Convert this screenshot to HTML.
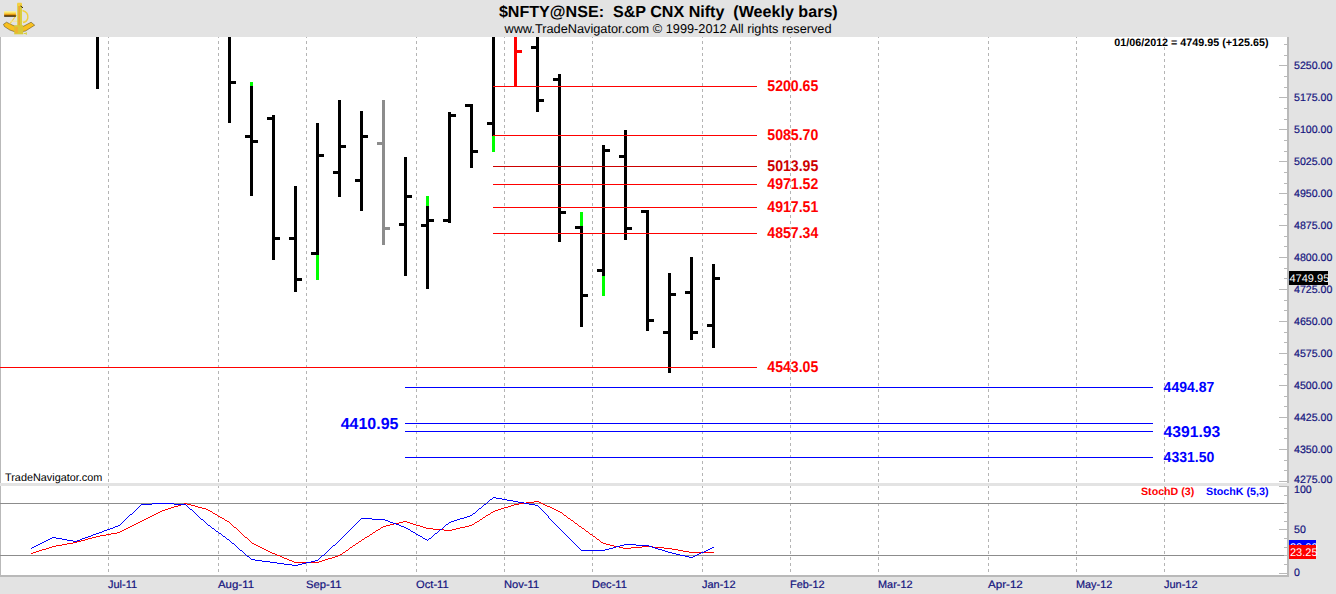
<!DOCTYPE html><html><head><meta charset="utf-8"><style>html,body{margin:0;padding:0;background:#e3e3e3;}svg{display:block}text{font-family:"Liberation Sans",sans-serif;white-space:pre;text-rendering:geometricPrecision}</style></head><body>
<svg width="1336" height="594" viewBox="0 0 1336 594">
<rect x="0" y="0" width="1336" height="594" fill="#e3e3e3"/>
<g shape-rendering="crispEdges">
<rect x="0" y="37" width="1287" height="446" fill="#fff"/>
<rect x="0" y="486" width="1287" height="89" fill="#fff"/>
<rect x="0" y="37" width="1" height="446" fill="#b9b9b9"/>
<rect x="0" y="486" width="1" height="89" fill="#b9b9b9"/>
<rect x="0" y="575" width="1289" height="2" fill="#b9b9b9"/>
<rect x="1287" y="37" width="2" height="446" fill="#b9b9b9"/>
<rect x="1287" y="486" width="2" height="91" fill="#b9b9b9"/>
<line x1="108.5" y1="37" x2="108.5" y2="483" stroke="#b4b4b4" stroke-width="1" stroke-dasharray="3 3" stroke-dashoffset="-4"/>
<line x1="108.5" y1="486" x2="108.5" y2="573" stroke="#b4b4b4" stroke-width="1" stroke-dasharray="3 3" stroke-dashoffset="-5"/>
<line x1="218.5" y1="37" x2="218.5" y2="483" stroke="#b4b4b4" stroke-width="1" stroke-dasharray="3 3" stroke-dashoffset="-4"/>
<line x1="218.5" y1="486" x2="218.5" y2="573" stroke="#b4b4b4" stroke-width="1" stroke-dasharray="3 3" stroke-dashoffset="-5"/>
<line x1="306.5" y1="37" x2="306.5" y2="483" stroke="#b4b4b4" stroke-width="1" stroke-dasharray="3 3" stroke-dashoffset="-4"/>
<line x1="306.5" y1="486" x2="306.5" y2="573" stroke="#b4b4b4" stroke-width="1" stroke-dasharray="3 3" stroke-dashoffset="-5"/>
<line x1="416.5" y1="37" x2="416.5" y2="483" stroke="#b4b4b4" stroke-width="1" stroke-dasharray="3 3" stroke-dashoffset="-4"/>
<line x1="416.5" y1="486" x2="416.5" y2="573" stroke="#b4b4b4" stroke-width="1" stroke-dasharray="3 3" stroke-dashoffset="-5"/>
<line x1="504.5" y1="37" x2="504.5" y2="483" stroke="#b4b4b4" stroke-width="1" stroke-dasharray="3 3" stroke-dashoffset="-4"/>
<line x1="504.5" y1="486" x2="504.5" y2="573" stroke="#b4b4b4" stroke-width="1" stroke-dasharray="3 3" stroke-dashoffset="-5"/>
<line x1="592.5" y1="37" x2="592.5" y2="483" stroke="#b4b4b4" stroke-width="1" stroke-dasharray="3 3" stroke-dashoffset="-4"/>
<line x1="592.5" y1="486" x2="592.5" y2="573" stroke="#b4b4b4" stroke-width="1" stroke-dasharray="3 3" stroke-dashoffset="-5"/>
<line x1="702.5" y1="37" x2="702.5" y2="483" stroke="#b4b4b4" stroke-width="1" stroke-dasharray="3 3" stroke-dashoffset="-4"/>
<line x1="702.5" y1="486" x2="702.5" y2="573" stroke="#b4b4b4" stroke-width="1" stroke-dasharray="3 3" stroke-dashoffset="-5"/>
<line x1="790.5" y1="37" x2="790.5" y2="483" stroke="#b4b4b4" stroke-width="1" stroke-dasharray="3 3" stroke-dashoffset="-4"/>
<line x1="790.5" y1="486" x2="790.5" y2="573" stroke="#b4b4b4" stroke-width="1" stroke-dasharray="3 3" stroke-dashoffset="-5"/>
<line x1="878.5" y1="37" x2="878.5" y2="483" stroke="#b4b4b4" stroke-width="1" stroke-dasharray="3 3" stroke-dashoffset="-4"/>
<line x1="878.5" y1="486" x2="878.5" y2="573" stroke="#b4b4b4" stroke-width="1" stroke-dasharray="3 3" stroke-dashoffset="-5"/>
<line x1="988.5" y1="37" x2="988.5" y2="483" stroke="#b4b4b4" stroke-width="1" stroke-dasharray="3 3" stroke-dashoffset="-4"/>
<line x1="988.5" y1="486" x2="988.5" y2="573" stroke="#b4b4b4" stroke-width="1" stroke-dasharray="3 3" stroke-dashoffset="-5"/>
<line x1="1076.5" y1="37" x2="1076.5" y2="483" stroke="#b4b4b4" stroke-width="1" stroke-dasharray="3 3" stroke-dashoffset="-4"/>
<line x1="1076.5" y1="486" x2="1076.5" y2="573" stroke="#b4b4b4" stroke-width="1" stroke-dasharray="3 3" stroke-dashoffset="-5"/>
<line x1="1164.5" y1="37" x2="1164.5" y2="483" stroke="#b4b4b4" stroke-width="1" stroke-dasharray="3 3" stroke-dashoffset="-4"/>
<line x1="1164.5" y1="486" x2="1164.5" y2="573" stroke="#b4b4b4" stroke-width="1" stroke-dasharray="3 3" stroke-dashoffset="-5"/>
<rect x="1284" y="44" width="3" height="1" fill="#b9b9b9"/>
<rect x="1284" y="55" width="3" height="1" fill="#b9b9b9"/>
<rect x="1279" y="65" width="8" height="1" fill="#b9b9b9"/>
<rect x="1284" y="76" width="3" height="1" fill="#b9b9b9"/>
<rect x="1284" y="87" width="3" height="1" fill="#b9b9b9"/>
<rect x="1279" y="97" width="8" height="1" fill="#b9b9b9"/>
<rect x="1284" y="108" width="3" height="1" fill="#b9b9b9"/>
<rect x="1284" y="119" width="3" height="1" fill="#b9b9b9"/>
<rect x="1279" y="129" width="8" height="1" fill="#b9b9b9"/>
<rect x="1284" y="140" width="3" height="1" fill="#b9b9b9"/>
<rect x="1284" y="151" width="3" height="1" fill="#b9b9b9"/>
<rect x="1279" y="161" width="8" height="1" fill="#b9b9b9"/>
<rect x="1284" y="172" width="3" height="1" fill="#b9b9b9"/>
<rect x="1284" y="183" width="3" height="1" fill="#b9b9b9"/>
<rect x="1279" y="193" width="8" height="1" fill="#b9b9b9"/>
<rect x="1284" y="204" width="3" height="1" fill="#b9b9b9"/>
<rect x="1284" y="214" width="3" height="1" fill="#b9b9b9"/>
<rect x="1279" y="225" width="8" height="1" fill="#b9b9b9"/>
<rect x="1284" y="236" width="3" height="1" fill="#b9b9b9"/>
<rect x="1284" y="246" width="3" height="1" fill="#b9b9b9"/>
<rect x="1279" y="257" width="8" height="1" fill="#b9b9b9"/>
<rect x="1284" y="268" width="3" height="1" fill="#b9b9b9"/>
<rect x="1284" y="278" width="3" height="1" fill="#b9b9b9"/>
<rect x="1279" y="289" width="8" height="1" fill="#b9b9b9"/>
<rect x="1284" y="300" width="3" height="1" fill="#b9b9b9"/>
<rect x="1284" y="310" width="3" height="1" fill="#b9b9b9"/>
<rect x="1279" y="321" width="8" height="1" fill="#b9b9b9"/>
<rect x="1284" y="332" width="3" height="1" fill="#b9b9b9"/>
<rect x="1284" y="342" width="3" height="1" fill="#b9b9b9"/>
<rect x="1279" y="353" width="8" height="1" fill="#b9b9b9"/>
<rect x="1284" y="364" width="3" height="1" fill="#b9b9b9"/>
<rect x="1284" y="374" width="3" height="1" fill="#b9b9b9"/>
<rect x="1279" y="385" width="8" height="1" fill="#b9b9b9"/>
<rect x="1284" y="396" width="3" height="1" fill="#b9b9b9"/>
<rect x="1284" y="406" width="3" height="1" fill="#b9b9b9"/>
<rect x="1279" y="417" width="8" height="1" fill="#b9b9b9"/>
<rect x="1284" y="428" width="3" height="1" fill="#b9b9b9"/>
<rect x="1284" y="438" width="3" height="1" fill="#b9b9b9"/>
<rect x="1279" y="449" width="8" height="1" fill="#b9b9b9"/>
<rect x="1284" y="460" width="3" height="1" fill="#b9b9b9"/>
<rect x="1284" y="470" width="3" height="1" fill="#b9b9b9"/>
<rect x="1279" y="481" width="8" height="1" fill="#b9b9b9"/>
<rect x="1279" y="573" width="8" height="1" fill="#b9b9b9"/>
<rect x="1284" y="564" width="3" height="1" fill="#b9b9b9"/>
<rect x="1284" y="555" width="3" height="1" fill="#b9b9b9"/>
<rect x="1284" y="547" width="3" height="1" fill="#b9b9b9"/>
<rect x="1284" y="538" width="3" height="1" fill="#b9b9b9"/>
<rect x="1279" y="529" width="8" height="1" fill="#b9b9b9"/>
<rect x="1284" y="521" width="3" height="1" fill="#b9b9b9"/>
<rect x="1284" y="512" width="3" height="1" fill="#b9b9b9"/>
<rect x="1284" y="503" width="3" height="1" fill="#b9b9b9"/>
<rect x="1284" y="495" width="3" height="1" fill="#b9b9b9"/>
<rect x="1279" y="486" width="8" height="1" fill="#b9b9b9"/>
<rect x="0" y="503" width="1284" height="1" fill="#8c8c8c"/>
<rect x="0" y="555" width="1284" height="1" fill="#8c8c8c"/>
</g>
<g shape-rendering="crispEdges">
<rect x="96" y="37" width="3" height="52" fill="#000"/>
<rect x="228" y="37" width="3" height="86" fill="#000"/>
<rect x="231" y="81" width="5" height="3" fill="#000"/>
<rect x="250" y="82" width="3" height="114" fill="#000"/>
<rect x="250" y="82" width="3" height="4" fill="#00ff00"/>
<rect x="245" y="135" width="5" height="3" fill="#000"/>
<rect x="253" y="140" width="5" height="3" fill="#000"/>
<rect x="272" y="115" width="3" height="145" fill="#000"/>
<rect x="267" y="117" width="5" height="3" fill="#000"/>
<rect x="275" y="237" width="5" height="3" fill="#000"/>
<rect x="294" y="186" width="3" height="106" fill="#000"/>
<rect x="289" y="237" width="5" height="3" fill="#000"/>
<rect x="297" y="278" width="5" height="3" fill="#000"/>
<rect x="316" y="123" width="3" height="157" fill="#000"/>
<rect x="316" y="255" width="3" height="25" fill="#00ff00"/>
<rect x="311" y="252" width="5" height="3" fill="#000"/>
<rect x="319" y="154" width="5" height="3" fill="#000"/>
<rect x="338" y="100" width="3" height="97" fill="#000"/>
<rect x="333" y="171" width="5" height="3" fill="#000"/>
<rect x="341" y="145" width="5" height="3" fill="#000"/>
<rect x="360" y="111" width="3" height="100" fill="#000"/>
<rect x="355" y="179" width="5" height="3" fill="#000"/>
<rect x="363" y="135" width="5" height="3" fill="#000"/>
<rect x="382" y="100" width="3" height="145" fill="#8c8c8c"/>
<rect x="377" y="142" width="5" height="3" fill="#8c8c8c"/>
<rect x="385" y="227" width="5" height="3" fill="#8c8c8c"/>
<rect x="404" y="157" width="3" height="119" fill="#000"/>
<rect x="399" y="223" width="5" height="3" fill="#000"/>
<rect x="407" y="195" width="5" height="3" fill="#000"/>
<rect x="426" y="196" width="3" height="93" fill="#000"/>
<rect x="426" y="196" width="3" height="10" fill="#00ff00"/>
<rect x="421" y="224" width="5" height="3" fill="#000"/>
<rect x="429" y="219" width="5" height="3" fill="#000"/>
<rect x="448" y="112" width="3" height="111" fill="#000"/>
<rect x="443" y="219" width="5" height="3" fill="#000"/>
<rect x="451" y="114" width="5" height="3" fill="#000"/>
<rect x="470" y="104" width="3" height="64" fill="#000"/>
<rect x="465" y="104" width="5" height="3" fill="#000"/>
<rect x="473" y="150" width="5" height="3" fill="#000"/>
<rect x="492" y="37" width="3" height="115" fill="#000"/>
<rect x="492" y="136" width="3" height="16" fill="#00ff00"/>
<rect x="487" y="122" width="5" height="3" fill="#000"/>
<rect x="514" y="37" width="3" height="50" fill="#ff0000"/>
<rect x="517" y="50" width="5" height="3" fill="#ff0000"/>
<rect x="536" y="37" width="3" height="75" fill="#000"/>
<rect x="531" y="46" width="5" height="3" fill="#000"/>
<rect x="539" y="99" width="5" height="3" fill="#000"/>
<rect x="558" y="74" width="3" height="168" fill="#000"/>
<rect x="553" y="78" width="5" height="3" fill="#000"/>
<rect x="561" y="211" width="5" height="3" fill="#000"/>
<rect x="580" y="212" width="3" height="115" fill="#000"/>
<rect x="580" y="212" width="3" height="14" fill="#00ff00"/>
<rect x="575" y="226" width="5" height="3" fill="#000"/>
<rect x="583" y="294" width="5" height="3" fill="#000"/>
<rect x="602" y="145" width="3" height="151" fill="#000"/>
<rect x="602" y="276" width="3" height="20" fill="#00ff00"/>
<rect x="597" y="269" width="5" height="3" fill="#000"/>
<rect x="605" y="149" width="5" height="3" fill="#000"/>
<rect x="624" y="130" width="3" height="110" fill="#000"/>
<rect x="619" y="155" width="5" height="3" fill="#000"/>
<rect x="627" y="227" width="5" height="3" fill="#000"/>
<rect x="646" y="210" width="3" height="121" fill="#000"/>
<rect x="641" y="210" width="5" height="3" fill="#000"/>
<rect x="649" y="319" width="5" height="3" fill="#000"/>
<rect x="668" y="273" width="3" height="100" fill="#000"/>
<rect x="663" y="331" width="5" height="3" fill="#000"/>
<rect x="671" y="293" width="5" height="3" fill="#000"/>
<rect x="690" y="257" width="3" height="83" fill="#000"/>
<rect x="685" y="291" width="5" height="3" fill="#000"/>
<rect x="693" y="331" width="5" height="3" fill="#000"/>
<rect x="712" y="264" width="3" height="84" fill="#000"/>
<rect x="707" y="324" width="5" height="3" fill="#000"/>
<rect x="715" y="277" width="5" height="3" fill="#000"/>
</g>
<g shape-rendering="crispEdges">
<rect x="493" y="86" width="264" height="1" fill="#ff0000"/>
<rect x="493" y="135" width="264" height="1" fill="#ff0000"/>
<rect x="493" y="166" width="264" height="1" fill="#cc0000"/>
<rect x="493" y="184" width="264" height="1" fill="#ff0000"/>
<rect x="493" y="207" width="264" height="1" fill="#ff0000"/>
<rect x="493" y="233" width="264" height="1" fill="#ff0000"/>
<rect x="0" y="367" width="757" height="1" fill="#ff0000"/>
<rect x="405" y="387" width="748" height="1" fill="#0000ff"/>
<rect x="405" y="423" width="748" height="1" fill="#0000ff"/>
<rect x="405" y="431" width="748" height="1" fill="#0000ff"/>
<rect x="405" y="457" width="748" height="1" fill="#0000ff"/>
</g>
<text transform="translate(767.3,91) scale(1,1.105)" fill="#ff0000" font-size="14.1px" font-weight="bold" text-anchor="start">5200.65</text>
<text transform="translate(767.3,140) scale(1,1.105)" fill="#ff0000" font-size="14.1px" font-weight="bold" text-anchor="start">5085.70</text>
<text transform="translate(767.3,171) scale(1,1.105)" fill="#cc0000" font-size="14.1px" font-weight="bold" text-anchor="start">5013.95</text>
<text transform="translate(767.3,189) scale(1,1.105)" fill="#ff0000" font-size="14.1px" font-weight="bold" text-anchor="start">4971.52</text>
<text transform="translate(767.3,212) scale(1,1.105)" fill="#ff0000" font-size="14.1px" font-weight="bold" text-anchor="start">4917.51</text>
<text transform="translate(767.3,238) scale(1,1.105)" fill="#ff0000" font-size="14.1px" font-weight="bold" text-anchor="start">4857.34</text>
<text transform="translate(767.3,372) scale(1,1.105)" fill="#ff0000" font-size="14.1px" font-weight="bold" text-anchor="start">4543.05</text>
<text transform="translate(1163.6,392) scale(1,1.05)" fill="#0000ff" font-size="14px" font-weight="bold" text-anchor="start">4494.87</text>
<text transform="translate(1163.6,437) scale(1,1.0)" fill="#0000ff" font-size="15.7px" font-weight="bold" text-anchor="start">4391.93</text>
<text transform="translate(1163.6,462) scale(1,1.05)" fill="#0000ff" font-size="14px" font-weight="bold" text-anchor="start">4331.50</text>
<text transform="translate(398.5,429) scale(1,1.0)" fill="#0000ff" font-size="16px" font-weight="bold" text-anchor="end">4410.95</text>
<path d="M534 501h5v1h-5zM526 502h8v1h-8zM539 502h2v1h-2zM184 503h3v1h-3zM519 503h7v1h-7zM541 503h2v1h-2zM181 504h3v1h-3zM187 504h4v1h-4zM514 504h5v1h-5zM543 504h2v1h-2zM178 505h3v1h-3zM191 505h4v1h-4zM511 505h3v1h-3zM545 505h2v1h-2zM174 506h4v1h-4zM195 506h3v1h-3zM508 506h3v1h-3zM547 506h3v1h-3zM171 507h3v1h-3zM198 507h4v1h-4zM504 507h4v1h-4zM550 507h2v1h-2zM168 508h3v1h-3zM202 508h4v1h-4zM501 508h3v1h-3zM552 508h2v1h-2zM165 509h3v1h-3zM206 509h2v1h-2zM498 509h3v1h-3zM554 509h2v1h-2zM162 510h3v1h-3zM208 510h2v1h-2zM495 510h3v1h-3zM556 510h2v1h-2zM160 511h2v1h-2zM210 511h2v1h-2zM493 511h2v1h-2zM558 511h2v1h-2zM158 512h2v1h-2zM212 512h1v1h-1zM491 512h2v1h-2zM560 512h2v1h-2zM156 513h2v1h-2zM213 513h2v1h-2zM490 513h1v1h-1zM562 513h1v1h-1zM154 514h2v1h-2zM215 514h2v1h-2zM488 514h2v1h-2zM563 514h1v1h-1zM152 515h2v1h-2zM217 515h1v1h-1zM486 515h2v1h-2zM564 515h2v1h-2zM150 516h2v1h-2zM218 516h2v1h-2zM485 516h1v1h-1zM566 516h1v1h-1zM148 517h2v1h-2zM220 517h2v1h-2zM483 517h2v1h-2zM567 517h1v1h-1zM146 518h2v1h-2zM222 518h2v1h-2zM482 518h1v1h-1zM568 518h2v1h-2zM144 519h2v1h-2zM224 519h1v1h-1zM480 519h2v1h-2zM570 519h1v1h-1zM142 520h2v1h-2zM225 520h2v1h-2zM479 520h1v1h-1zM571 520h2v1h-2zM140 521h2v1h-2zM227 521h2v1h-2zM403 521h4v1h-4zM477 521h2v1h-2zM573 521h1v1h-1zM138 522h2v1h-2zM229 522h1v1h-1zM399 522h4v1h-4zM407 522h3v1h-3zM475 522h2v1h-2zM574 522h1v1h-1zM136 523h2v1h-2zM230 523h1v1h-1zM394 523h5v1h-5zM410 523h3v1h-3zM474 523h1v1h-1zM575 523h2v1h-2zM134 524h2v1h-2zM231 524h1v1h-1zM390 524h4v1h-4zM413 524h3v1h-3zM472 524h2v1h-2zM577 524h1v1h-1zM132 525h2v1h-2zM232 525h1v1h-1zM386 525h4v1h-4zM416 525h4v1h-4zM469 525h3v1h-3zM578 525h1v1h-1zM130 526h2v1h-2zM233 526h1v1h-1zM383 526h3v1h-3zM420 526h3v1h-3zM465 526h4v1h-4zM579 526h2v1h-2zM128 527h2v1h-2zM234 527h2v1h-2zM381 527h2v1h-2zM423 527h3v1h-3zM460 527h5v1h-5zM581 527h1v1h-1zM126 528h2v1h-2zM236 528h1v1h-1zM380 528h1v1h-1zM426 528h7v1h-7zM456 528h4v1h-4zM582 528h2v1h-2zM124 529h2v1h-2zM237 529h1v1h-1zM378 529h2v1h-2zM433 529h11v1h-11zM452 529h4v1h-4zM584 529h1v1h-1zM122 530h2v1h-2zM238 530h1v1h-1zM376 530h2v1h-2zM444 530h8v1h-8zM585 530h1v1h-1zM120 531h2v1h-2zM239 531h1v1h-1zM375 531h1v1h-1zM586 531h2v1h-2zM117 532h3v1h-3zM240 532h1v1h-1zM373 532h2v1h-2zM588 532h1v1h-1zM111 533h6v1h-6zM241 533h1v1h-1zM372 533h1v1h-1zM589 533h1v1h-1zM106 534h5v1h-5zM242 534h1v1h-1zM370 534h2v1h-2zM590 534h2v1h-2zM100 535h6v1h-6zM243 535h1v1h-1zM369 535h1v1h-1zM592 535h1v1h-1zM96 536h4v1h-4zM244 536h1v1h-1zM367 536h2v1h-2zM593 536h2v1h-2zM92 537h4v1h-4zM245 537h2v1h-2zM365 537h2v1h-2zM595 537h1v1h-1zM88 538h4v1h-4zM247 538h1v1h-1zM364 538h1v1h-1zM596 538h1v1h-1zM85 539h3v1h-3zM248 539h1v1h-1zM362 539h2v1h-2zM597 539h2v1h-2zM81 540h4v1h-4zM249 540h1v1h-1zM361 540h1v1h-1zM599 540h1v1h-1zM77 541h4v1h-4zM250 541h1v1h-1zM359 541h2v1h-2zM600 541h1v1h-1zM73 542h4v1h-4zM251 542h1v1h-1zM358 542h1v1h-1zM601 542h2v1h-2zM67 543h6v1h-6zM252 543h2v1h-2zM356 543h2v1h-2zM603 543h3v1h-3zM62 544h5v1h-5zM254 544h2v1h-2zM355 544h1v1h-1zM606 544h4v1h-4zM56 545h6v1h-6zM256 545h2v1h-2zM353 545h2v1h-2zM610 545h4v1h-4zM52 546h4v1h-4zM258 546h2v1h-2zM352 546h1v1h-1zM614 546h5v1h-5zM642 546h11v1h-11zM49 547h3v1h-3zM260 547h2v1h-2zM350 547h2v1h-2zM619 547h4v1h-4zM631 547h11v1h-11zM653 547h11v1h-11zM46 548h3v1h-3zM262 548h2v1h-2zM349 548h1v1h-1zM623 548h8v1h-8zM664 548h8v1h-8zM42 549h4v1h-4zM264 549h2v1h-2zM348 549h1v1h-1zM672 549h6v1h-6zM39 550h3v1h-3zM266 550h2v1h-2zM346 550h2v1h-2zM678 550h5v1h-5zM36 551h3v1h-3zM268 551h2v1h-2zM345 551h1v1h-1zM683 551h6v1h-6zM33 552h3v1h-3zM270 552h2v1h-2zM343 552h2v1h-2zM689 552h25v1h-25zM31 553h2v1h-2zM272 553h3v1h-3zM342 553h1v1h-1zM275 554h2v1h-2zM340 554h2v1h-2zM277 555h3v1h-3zM338 555h2v1h-2zM280 556h2v1h-2zM335 556h3v1h-3zM282 557h2v1h-2zM332 557h3v1h-3zM284 558h3v1h-3zM328 558h4v1h-4zM287 559h2v1h-2zM325 559h3v1h-3zM289 560h3v1h-3zM322 560h3v1h-3zM292 561h2v1h-2zM319 561h3v1h-3zM294 562h25v1h-25z" fill="#ff0000" shape-rendering="crispEdges"/>
<path d="M493 497h3v1h-3zM492 498h1v1h-1zM496 498h6v1h-6zM490 499h2v1h-2zM502 499h5v1h-5zM489 500h1v1h-1zM507 500h6v1h-6zM488 501h1v1h-1zM513 501h5v1h-5zM487 502h1v1h-1zM518 502h6v1h-6zM152 503h22v1h-22zM486 503h1v1h-1zM524 503h5v1h-5zM141 504h11v1h-11zM174 504h12v1h-12zM484 504h2v1h-2zM529 504h6v1h-6zM140 505h1v1h-1zM186 505h1v1h-1zM483 505h1v1h-1zM535 505h3v1h-3zM139 506h1v1h-1zM187 506h1v1h-1zM482 506h1v1h-1zM538 506h1v1h-1zM138 507h1v1h-1zM188 507h1v1h-1zM481 507h1v1h-1zM539 507h1v1h-1zM137 508h1v1h-1zM189 508h1v1h-1zM479 508h2v1h-2zM540 508h1v1h-1zM136 509h1v1h-1zM190 509h2v1h-2zM478 509h1v1h-1zM541 509h1v1h-1zM135 510h1v1h-1zM192 510h1v1h-1zM477 510h1v1h-1zM542 510h1v1h-1zM134 511h1v1h-1zM193 511h1v1h-1zM476 511h1v1h-1zM543 511h1v1h-1zM133 512h1v1h-1zM194 512h1v1h-1zM475 512h1v1h-1zM544 512h1v1h-1zM132 513h1v1h-1zM195 513h1v1h-1zM473 513h2v1h-2zM545 513h1v1h-1zM130 514h2v1h-2zM196 514h1v1h-1zM472 514h1v1h-1zM546 514h1v1h-1zM129 515h1v1h-1zM197 515h1v1h-1zM470 515h2v1h-2zM547 515h1v1h-1zM128 516h1v1h-1zM198 516h1v1h-1zM467 516h3v1h-3zM548 516h1v1h-1zM127 517h1v1h-1zM199 517h1v1h-1zM464 517h3v1h-3zM548 517h1v1h-1zM126 518h1v1h-1zM200 518h1v1h-1zM361 518h11v1h-11zM460 518h4v1h-4zM549 518h1v1h-1zM125 519h1v1h-1zM201 519h2v1h-2zM360 519h1v1h-1zM372 519h13v1h-13zM457 519h3v1h-3zM550 519h1v1h-1zM124 520h1v1h-1zM203 520h1v1h-1zM359 520h1v1h-1zM385 520h3v1h-3zM454 520h3v1h-3zM551 520h1v1h-1zM123 521h1v1h-1zM204 521h1v1h-1zM358 521h1v1h-1zM388 521h2v1h-2zM451 521h3v1h-3zM552 521h1v1h-1zM122 522h1v1h-1zM205 522h1v1h-1zM357 522h1v1h-1zM390 522h3v1h-3zM449 522h2v1h-2zM553 522h1v1h-1zM121 523h1v1h-1zM206 523h1v1h-1zM356 523h1v1h-1zM393 523h3v1h-3zM448 523h1v1h-1zM554 523h1v1h-1zM120 524h1v1h-1zM207 524h1v1h-1zM355 524h1v1h-1zM396 524h3v1h-3zM446 524h2v1h-2zM555 524h1v1h-1zM118 525h2v1h-2zM208 525h2v1h-2zM354 525h1v1h-1zM399 525h2v1h-2zM445 525h1v1h-1zM556 525h1v1h-1zM115 526h3v1h-3zM210 526h1v1h-1zM353 526h1v1h-1zM401 526h3v1h-3zM444 526h1v1h-1zM557 526h1v1h-1zM113 527h2v1h-2zM211 527h1v1h-1zM352 527h1v1h-1zM404 527h2v1h-2zM443 527h1v1h-1zM558 527h1v1h-1zM110 528h3v1h-3zM212 528h2v1h-2zM351 528h1v1h-1zM406 528h2v1h-2zM442 528h1v1h-1zM559 528h1v1h-1zM107 529h3v1h-3zM214 529h1v1h-1zM350 529h1v1h-1zM408 529h2v1h-2zM440 529h2v1h-2zM560 529h1v1h-1zM104 530h3v1h-3zM215 530h1v1h-1zM349 530h1v1h-1zM410 530h1v1h-1zM439 530h1v1h-1zM561 530h1v1h-1zM102 531h2v1h-2zM216 531h2v1h-2zM348 531h1v1h-1zM411 531h2v1h-2zM438 531h1v1h-1zM562 531h1v1h-1zM99 532h3v1h-3zM218 532h1v1h-1zM347 532h1v1h-1zM413 532h2v1h-2zM437 532h1v1h-1zM563 532h1v1h-1zM96 533h3v1h-3zM219 533h2v1h-2zM346 533h1v1h-1zM415 533h1v1h-1zM435 533h2v1h-2zM564 533h1v1h-1zM93 534h3v1h-3zM221 534h1v1h-1zM345 534h1v1h-1zM416 534h2v1h-2zM434 534h1v1h-1zM565 534h1v1h-1zM91 535h2v1h-2zM222 535h1v1h-1zM344 535h1v1h-1zM418 535h2v1h-2zM433 535h1v1h-1zM566 535h1v1h-1zM88 536h3v1h-3zM223 536h2v1h-2zM343 536h1v1h-1zM420 536h2v1h-2zM432 536h1v1h-1zM567 536h1v1h-1zM52 537h4v1h-4zM85 537h3v1h-3zM225 537h1v1h-1zM342 537h1v1h-1zM422 537h1v1h-1zM431 537h1v1h-1zM568 537h1v1h-1zM50 538h2v1h-2zM56 538h6v1h-6zM82 538h3v1h-3zM226 538h1v1h-1zM341 538h1v1h-1zM423 538h2v1h-2zM429 538h2v1h-2zM569 538h1v1h-1zM48 539h2v1h-2zM62 539h5v1h-5zM80 539h2v1h-2zM227 539h2v1h-2zM340 539h1v1h-1zM425 539h2v1h-2zM428 539h1v1h-1zM570 539h1v1h-1zM46 540h2v1h-2zM67 540h6v1h-6zM77 540h3v1h-3zM229 540h1v1h-1zM339 540h1v1h-1zM427 540h1v1h-1zM571 540h1v1h-1zM44 541h2v1h-2zM73 541h4v1h-4zM230 541h1v1h-1zM338 541h1v1h-1zM572 541h1v1h-1zM42 542h2v1h-2zM231 542h1v1h-1zM337 542h1v1h-1zM573 542h1v1h-1zM40 543h2v1h-2zM232 543h2v1h-2zM336 543h1v1h-1zM574 543h1v1h-1zM38 544h2v1h-2zM234 544h1v1h-1zM335 544h1v1h-1zM575 544h1v1h-1zM624 544h12v1h-12zM36 545h2v1h-2zM235 545h1v1h-1zM333 545h2v1h-2zM576 545h1v1h-1zM620 545h4v1h-4zM636 545h13v1h-13zM34 546h2v1h-2zM236 546h1v1h-1zM332 546h1v1h-1zM577 546h1v1h-1zM616 546h4v1h-4zM649 546h3v1h-3zM32 547h2v1h-2zM237 547h1v1h-1zM331 547h1v1h-1zM578 547h1v1h-1zM613 547h3v1h-3zM652 547h3v1h-3zM712 547h2v1h-2zM31 548h1v1h-1zM238 548h1v1h-1zM330 548h1v1h-1zM579 548h1v1h-1zM609 548h4v1h-4zM655 548h3v1h-3zM710 548h2v1h-2zM239 549h1v1h-1zM329 549h1v1h-1zM580 549h1v1h-1zM605 549h4v1h-4zM658 549h4v1h-4zM708 549h2v1h-2zM240 550h2v1h-2zM328 550h1v1h-1zM581 550h24v1h-24zM662 550h3v1h-3zM706 550h2v1h-2zM242 551h1v1h-1zM327 551h1v1h-1zM665 551h3v1h-3zM704 551h2v1h-2zM243 552h1v1h-1zM326 552h1v1h-1zM668 552h4v1h-4zM701 552h3v1h-3zM244 553h1v1h-1zM325 553h1v1h-1zM672 553h4v1h-4zM699 553h2v1h-2zM245 554h1v1h-1zM324 554h1v1h-1zM676 554h4v1h-4zM697 554h2v1h-2zM246 555h1v1h-1zM322 555h2v1h-2zM680 555h5v1h-5zM695 555h2v1h-2zM247 556h2v1h-2zM321 556h1v1h-1zM685 556h4v1h-4zM693 556h2v1h-2zM249 557h1v1h-1zM320 557h1v1h-1zM689 557h4v1h-4zM250 558h1v1h-1zM319 558h1v1h-1zM251 559h4v1h-4zM318 559h1v1h-1zM255 560h7v1h-7zM315 560h3v1h-3zM262 561h8v1h-8zM311 561h4v1h-4zM270 562h7v1h-7zM306 562h5v1h-5zM277 563h7v1h-7zM302 563h4v1h-4zM284 564h8v1h-8zM298 564h4v1h-4zM292 565h6v1h-6z" fill="#0000ff" shape-rendering="crispEdges"/>
<text x="1294" y="69" fill="#14147e" stroke="#14147e" stroke-width="0.2" font-size="10.6px">5250.00</text>
<text x="1294" y="101" fill="#14147e" stroke="#14147e" stroke-width="0.2" font-size="10.6px">5175.00</text>
<text x="1294" y="133" fill="#14147e" stroke="#14147e" stroke-width="0.2" font-size="10.6px">5100.00</text>
<text x="1294" y="165" fill="#14147e" stroke="#14147e" stroke-width="0.2" font-size="10.6px">5025.00</text>
<text x="1294" y="197" fill="#14147e" stroke="#14147e" stroke-width="0.2" font-size="10.6px">4950.00</text>
<text x="1294" y="229" fill="#14147e" stroke="#14147e" stroke-width="0.2" font-size="10.6px">4875.00</text>
<text x="1294" y="261" fill="#14147e" stroke="#14147e" stroke-width="0.2" font-size="10.6px">4800.00</text>
<text x="1294" y="293" fill="#14147e" stroke="#14147e" stroke-width="0.2" font-size="10.6px">4725.00</text>
<text x="1294" y="325" fill="#14147e" stroke="#14147e" stroke-width="0.2" font-size="10.6px">4650.00</text>
<text x="1294" y="357" fill="#14147e" stroke="#14147e" stroke-width="0.2" font-size="10.6px">4575.00</text>
<text x="1294" y="389" fill="#14147e" stroke="#14147e" stroke-width="0.2" font-size="10.6px">4500.00</text>
<text x="1294" y="421" fill="#14147e" stroke="#14147e" stroke-width="0.2" font-size="10.6px">4425.00</text>
<text x="1294" y="453" fill="#14147e" stroke="#14147e" stroke-width="0.2" font-size="10.6px">4350.00</text>
<text x="1294" y="483" fill="#14147e" stroke="#14147e" stroke-width="0.2" font-size="10.6px">4275.00</text>
<text x="1294" y="493" fill="#14147e" stroke="#14147e" stroke-width="0.2" font-size="10.6px">100</text>
<text x="1294" y="533" fill="#14147e" stroke="#14147e" stroke-width="0.2" font-size="10.6px">50</text>
<text x="1294" y="576" fill="#14147e" stroke="#14147e" stroke-width="0.2" font-size="10.6px">0</text>
<rect x="1289" y="271" width="39" height="14" fill="#000"/>
<text x="1289.5" y="282" fill="#fff" font-size="11px">4749.95</text>
<rect x="1289" y="540" width="27" height="14" fill="#0000ff"/>
<text x="1290" y="551" fill="#fff" font-size="11px">30.09</text>
<rect x="1289" y="545" width="27" height="14" fill="#ff0000"/>
<text x="1290" y="556" fill="#fff" font-size="11px">23.25</text>
<text x="108" y="588" fill="#14147e" stroke="#14147e" stroke-width="0.2" font-size="10.75px" textLength="29.1" lengthAdjust="spacingAndGlyphs">Jul-11</text>
<text x="218" y="588" fill="#14147e" stroke="#14147e" stroke-width="0.2" font-size="10.75px" textLength="36" lengthAdjust="spacingAndGlyphs">Aug-11</text>
<text x="306" y="588" fill="#14147e" stroke="#14147e" stroke-width="0.2" font-size="10.75px" textLength="35.4" lengthAdjust="spacingAndGlyphs">Sep-11</text>
<text x="416" y="588" fill="#14147e" stroke="#14147e" stroke-width="0.2" font-size="10.75px" textLength="32.7" lengthAdjust="spacingAndGlyphs">Oct-11</text>
<text x="504" y="588" fill="#14147e" stroke="#14147e" stroke-width="0.2" font-size="10.75px" textLength="35.1" lengthAdjust="spacingAndGlyphs">Nov-11</text>
<text x="592" y="588" fill="#14147e" stroke="#14147e" stroke-width="0.2" font-size="10.75px" textLength="34.8" lengthAdjust="spacingAndGlyphs">Dec-11</text>
<text x="702" y="588" fill="#14147e" stroke="#14147e" stroke-width="0.2" font-size="10.75px" textLength="33.6" lengthAdjust="spacingAndGlyphs">Jan-12</text>
<text x="790" y="588" fill="#14147e" stroke="#14147e" stroke-width="0.2" font-size="10.75px" textLength="34.5" lengthAdjust="spacingAndGlyphs">Feb-12</text>
<text x="878" y="588" fill="#14147e" stroke="#14147e" stroke-width="0.2" font-size="10.75px" textLength="34.5" lengthAdjust="spacingAndGlyphs">Mar-12</text>
<text x="988" y="588" fill="#14147e" stroke="#14147e" stroke-width="0.2" font-size="10.75px" textLength="34.8" lengthAdjust="spacingAndGlyphs">Apr-12</text>
<text x="1076" y="588" fill="#14147e" stroke="#14147e" stroke-width="0.2" font-size="10.75px" textLength="36.3" lengthAdjust="spacingAndGlyphs">May-12</text>
<text x="1164" y="588" fill="#14147e" stroke="#14147e" stroke-width="0.2" font-size="10.75px" textLength="33.6" lengthAdjust="spacingAndGlyphs">Jun-12</text>
<text x="668.3" y="16.5" fill="#000" font-size="16.1px" font-weight="bold" text-anchor="middle">$NFTY@NSE:  S&amp;P CNX Nifty  (Weekly bars)</text>
<text x="668" y="33.2" fill="#000" font-size="12.75px" text-anchor="middle">www.TradeNavigator.com © 1999-2012 All rights reserved</text>
<text x="1268.5" y="46" fill="#000" font-size="10.75px" font-weight="bold" text-anchor="end">01/06/2012 = 4749.95 (+125.65)</text>
<text x="5" y="481" fill="#000" font-size="10.87px">TradeNavigator.com</text>
<text x="1141" y="495" fill="#ff0000" font-size="10.66px" font-weight="bold">StochD (3)</text>
<text x="1206" y="495" fill="#0000ff" font-size="10.73px" font-weight="bold">StochK (5,3)</text>
<g>
<defs><linearGradient id="tg" x1="0" y1="0" x2="0" y2="1"><stop offset="0" stop-color="#c0d8f0"/><stop offset="0.15" stop-color="#fff490"/><stop offset="0.45" stop-color="#f8d040"/><stop offset="0.65" stop-color="#e09010"/><stop offset="0.82" stop-color="#604000"/><stop offset="1" stop-color="#201400"/></linearGradient></defs>
<path d="M3.5 24.3 L6.5 22.2 L15.3 26.5 L15.3 31.9 L9.9 30.1 L4.4 26.5 Z" fill="#f8c020" stroke="#3a2a00" stroke-width="0.45"/>
<path d="M22.5 26.8 L31.1 22.2 L34.7 25.2 L25.5 31 L22.5 31.5 Z" fill="#f8c020" stroke="#3a2a00" stroke-width="0.45"/>
<path d="M9.8 24 L16.5 15" stroke="#f0d040" stroke-width="1.2"/>
<path d="M10 21.2 L27 21.2" stroke="#f8e890" stroke-width="1"/>
<path d="M22.5 10.5 Q28.5 12 27.8 18 Q27 22 23 22.5" fill="none" stroke="#f0d040" stroke-width="1.4"/>
<rect x="17.2" y="3.5" width="4.8" height="26" fill="#d8d040"/>
<rect x="18.3" y="5" width="1.8" height="21" fill="#f0a830"/>
<path d="M14.2 25.2 L23.2 25.2 L23.2 34.3 L14.2 34.3 Z" fill="#d8c838"/>
<rect x="15.2" y="27" width="2.6" height="6" fill="#f0b030"/>
<path d="M17.5 2.8 L21.5 2.8 L22.3 6 L17 6 Z" fill="#f4d040"/>
<path d="M20.5 6 L23 7.8" stroke="#3a2000" stroke-width="1"/>
<rect x="4.1" y="10.7" width="11.8" height="6.1" rx="0.6" fill="url(#tg)"/>
<path d="M23.8 33.5 L26.8 33.5 M26.3 32.3 L26.3 34.7" stroke="#d8d040" stroke-width="1.1"/>
</g>
</svg></body></html>
